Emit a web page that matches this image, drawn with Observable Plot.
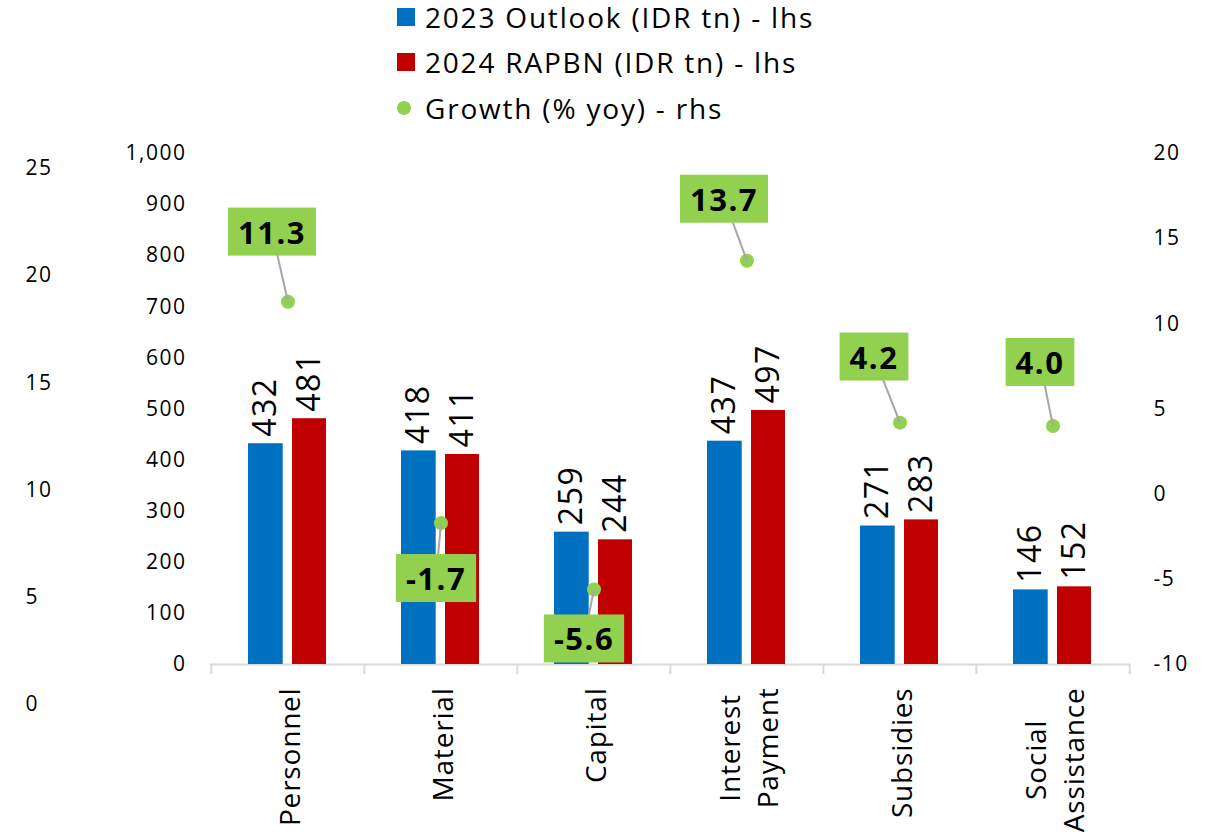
<!DOCTYPE html>
<html>
<head>
<meta charset="utf-8">
<script src="https://cdn.jsdelivr.net/npm/d3@7"></script>
<script src="https://cdn.jsdelivr.net/npm/@observablehq/plot@0.6"></script>
<style>
  html, body { margin: 0; padding: 0; background: #fff; }
  body { width: 1217px; height: 834px; position: relative; overflow: hidden; font-family: "Open Sans", "Noto Sans", sans-serif; }
  #legend { position: absolute; left: 397px; top: -6px; font-size: 28px; letter-spacing: 1.8px; color: #000; }
  #legend .row { height: 45.5px; display: flex; align-items: center; white-space: nowrap; }
  #legend .sw { width: 18px; height: 18px; display: inline-block; margin-right: 10px; }
  #legend .dotsw { width: 18px; height: 18px; display: inline-flex; align-items: center; justify-content: flex-start; margin-right: 10px; }
  #legend .dotsw span { width: 14px; height: 14px; border-radius: 50%; background: #92D050; display: block; }
  #chart { position: absolute; left: 0; top: 130px; }
  #chart svg text { letter-spacing: 1.5px; }
  #chart svg g[aria-description="cat-label"] text { letter-spacing: 0.8px; }
</style>
</head>
<body>
<div id="legend">
  <div class="row"><span class="sw" style="background:#0070C0"></span>2023 Outlook (IDR tn) - lhs</div>
  <div class="row"><span class="sw" style="background:#C00000"></span>2024 RAPBN (IDR tn) - lhs</div>
  <div class="row"><span class="dotsw"><span></span></span>Growth (% yoy) - rhs</div>
</div>
<div id="chart"></div>
<script>
// ---- data ----
const categories = ["Personnel", "Material", "Capital", "Interest\nPayment", "Subsidies", "Social\nAssistance"];
const outlook2023 = [432, 418, 259, 437, 271, 146];
const rapbn2024 = [481, 411, 244, 497, 283, 152];
const growth = [11.3, -1.7, -5.6, 13.7, 4.2, 4.0];
const lhsTicks = [0, 100, 200, 300, 400, 500, 600, 700, 800, 900, 1000];
const rhsTicks = [-10, -5, 0, 5, 10, 15, 20];
const farLeftTicks = [0, 5, 10, 15, 20, 25];

// ---- layout (pixels) ----
const W = 1217, H = 704;
const mL = 210, mR = 87, mT = 23, mB = 170;
const bw = (W - mL - mR) / categories.length;
const labelDx = [-16, -5, -10, -23, -26, -13];
const labelDy = [-68, 57, 51, -60, -64, -62];

// axis mappings onto the lhs scale
const rhsToLhs = g => (g + 10) * 1000 / 30;
const farLeftToLhs = v => -78.3 + v * 41.96;

const rows23 = categories.map((c, i) => ({category: c, value: outlook2023[i]}));
const rows24 = categories.map((c, i) => ({category: c, value: rapbn2024[i]}));
const growthRows = categories.map((c, i) => ({category: c, growth: growth[i]}));

const GREEN = "#92D050", BLUE = "#0070C0", RED = "#C00000", GRID = "#D9D9D9";
const FONT = "'Open Sans', 'Noto Sans', sans-serif";

const marks = [
  Plot.ruleY([0], {stroke: GRID, strokeWidth: 2}),
  Plot.ruleX(categories, {x: d => d, y1: 0, y2: -19.6, dx: -bw / 2, stroke: GRID, strokeWidth: 2}),
  Plot.ruleX(categories.slice(-1), {x: d => d, y1: 0, y2: -19.6, dx: bw / 2, stroke: GRID, strokeWidth: 2}),
  Plot.barY(rows23, {x: "category", y: "value", fill: BLUE, insetLeft: 37, insetRight: 81.3}),
  Plot.barY(rows24, {x: "category", y: "value", fill: RED, insetLeft: 81, insetRight: 38}),
  Plot.text(rows23, {x: "category", y: "value", text: d => String(d.value), rotate: -90, textAnchor: "start", lineAnchor: "middle", dx: -22.2, dy: -7, fontSize: 32, fill: "#000"}),
  Plot.text(rows24, {x: "category", y: "value", text: d => String(d.value), rotate: -90, textAnchor: "start", lineAnchor: "middle", dx: 21.6, dy: -7, fontSize: 32, fill: "#000"}),
  // lhs axis
  Plot.text(lhsTicks, {y: d => d, text: d => d3.format(",")(d), frameAnchor: "left", textAnchor: "end", dx: -24, fontSize: 21, fill: "#000"}),
  // rhs axis
  Plot.text(rhsTicks, {y: d => rhsToLhs(d), text: d => String(d), frameAnchor: "right", textAnchor: "start", dx: 23, fontSize: 21, fill: "#000"}),
  // far-left axis
  Plot.text(farLeftTicks, {y: d => farLeftToLhs(d), text: d => String(d), frameAnchor: "left", textAnchor: "start", dx: -185, fontSize: 21, fill: "#000"}),
  // category labels
  Plot.text(categories, {x: d => d, text: d => d, frameAnchor: "bottom", rotate: -90, textAnchor: "middle", lineAnchor: "middle", lineHeight: 1.36, dy: 23, fontSize: 28, fill: "#000", ariaDescription: "cat-label"}),
  // growth dots
  Plot.dot(growthRows, {x: "category", y: d => rhsToLhs(d.growth), r: 7, fill: GREEN, ariaDescription: "growth-dot"}),
  // growth labels
  ...growthRows.map((d, i) => Plot.text([d], {x: "category", y: d => rhsToLhs(d.growth), text: d => d.growth.toFixed(1), dx: labelDx[i], dy: labelDy[i], fontSize: 31, fontWeight: "bold", fill: "#000", textAnchor: "middle", lineAnchor: "middle", ariaDescription: "growth-label"}))
];

const svg = Plot.plot({
  width: W, height: H,
  marginLeft: mL, marginRight: mR, marginTop: mT, marginBottom: mB,
  style: {fontFamily: FONT, fontSize: "20px", background: "white", overflow: "visible", color: "#000"},
  x: {type: "band", domain: categories, padding: 0, axis: null},
  y: {domain: [0, 1000], axis: null},
  marks
});
document.getElementById("chart").append(svg);

// ---- post-processing: category label top alignment ----
svg.querySelectorAll('g[aria-description="cat-label"] text').forEach(t => {
  const w = t.getBBox().width;
  t.setAttribute("transform", (t.getAttribute("transform") || "") + ` translate(${-w / 2},0)`);
});

// ---- growth label boxes + connectors ----
const ns = "http://www.w3.org/2000/svg";
const sr = svg.getBoundingClientRect();
const dots = svg.querySelectorAll('g[aria-description="growth-dot"] circle');
const labels = svg.querySelectorAll('g[aria-description="growth-label"] text');
const overlay = document.createElementNS(ns, "g");
svg.insertBefore(overlay, svg.querySelector('g[aria-description="growth-label"]'));
labels.forEach((t, i) => {
  const b = t.getBoundingClientRect();
  const cx = b.x + b.width / 2 - sr.x, cy = b.y + b.height / 2 - sr.y;
  const d = dots[i].getBoundingClientRect();
  const dx = d.x + d.width / 2 - sr.x, dy = d.y + d.height / 2 - sr.y;
  const line = document.createElementNS(ns, "line");
  line.setAttribute("x1", cx); line.setAttribute("y1", cy);
  line.setAttribute("x2", dx); line.setAttribute("y2", dy);
  line.setAttribute("stroke", "#A6A6A6"); line.setAttribute("stroke-width", 2);
  overlay.append(line);
  const bwid = b.width + 20, bh = 48;
  const rect = document.createElementNS(ns, "rect");
  rect.setAttribute("x", cx - bwid / 2); rect.setAttribute("y", cy - bh / 2);
  rect.setAttribute("width", bwid); rect.setAttribute("height", bh);
  rect.setAttribute("fill", GREEN);
  overlay.append(rect);
});
</script>
</body>
</html>
